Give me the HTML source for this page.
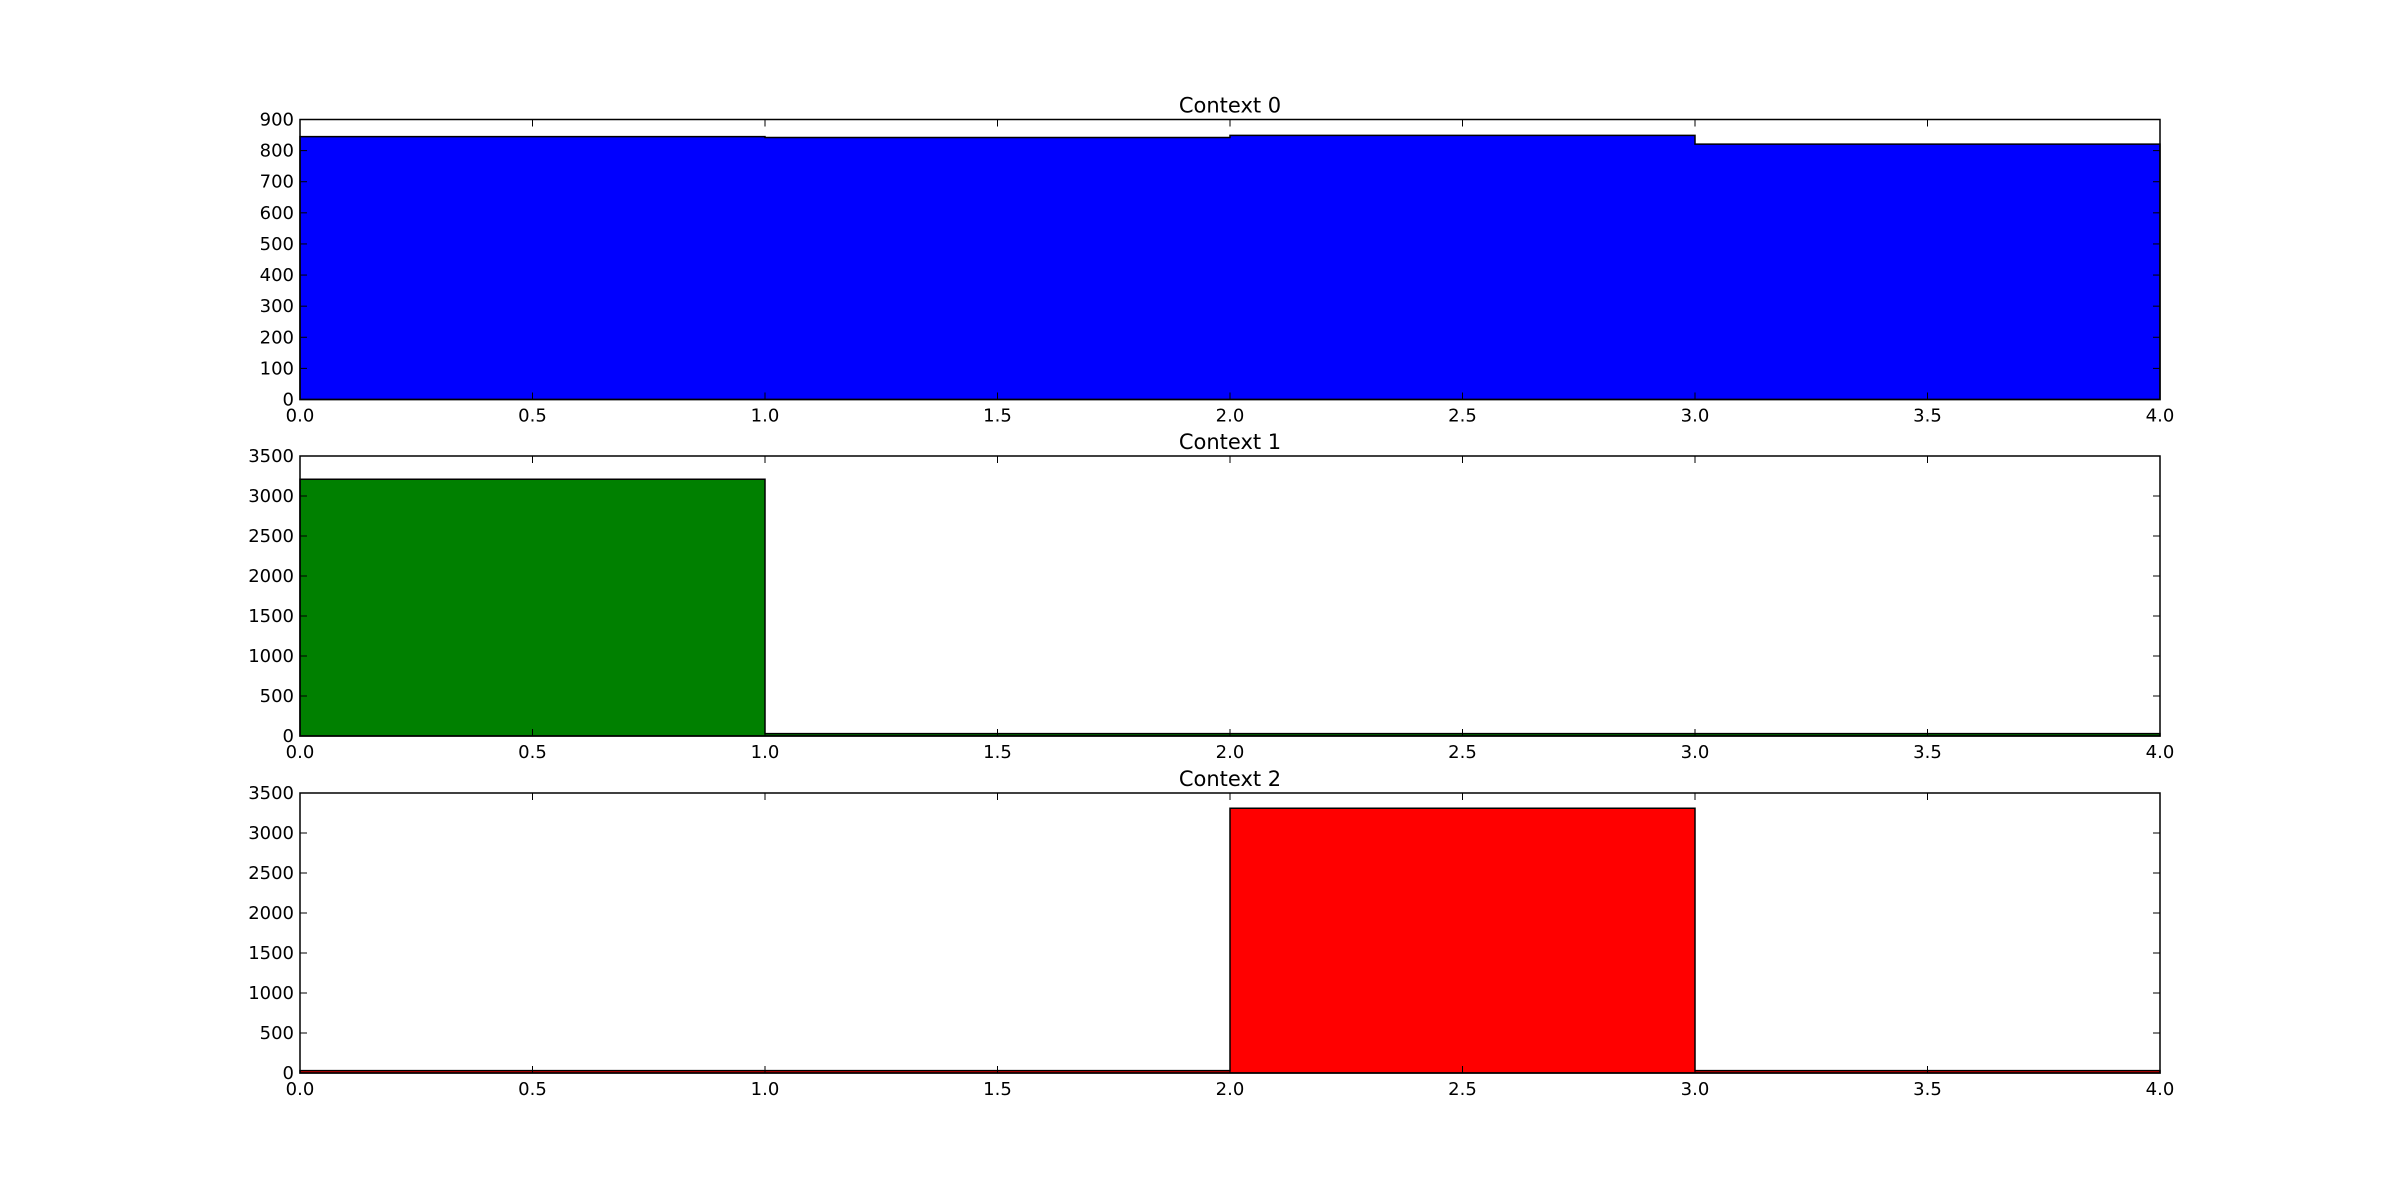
<!DOCTYPE html>
<html><head><meta charset="utf-8"><style>
html,body{margin:0;padding:0;background:#fff;}
svg{display:block;font-family:"DejaVu Sans","Liberation Sans",sans-serif;}
</style></head><body>
<svg id="chart" width="2400" height="1193"></svg>
<script>
const titles = ["Context 0","Context 1","Context 2"];
const binEdges = [0,1,2,3,4];
const xTicks = [0,0.5,1,1.5,2,2.5,3,3.5,4];
const xTickLabels = ["0.0","0.5","1.0","1.5","2.0","2.5","3.0","3.5","4.0"];
const counts0 = [845,842,849,821];
const counts1 = [3210,30,30,30];
const counts2 = [30,30,3310,30];
const yMax = [900,3500,3500];
const yTicks0 = [0,100,200,300,400,500,600,700,800,900];
const yTicks1 = [0,500,1000,1500,2000,2500,3000,3500];
const yTicks2 = [0,500,1000,1500,2000,2500,3000,3500];
const colors = ["#0000ff","#008000","#ff0000"];

const svg = document.getElementById('chart');
const NS = "http://www.w3.org/2000/svg";
function mk(tag, attrs, parent){
  const e = document.createElementNS(NS, tag);
  for (const k in attrs) e.setAttribute(k, attrs[k]);
  parent.appendChild(e);
  return e;
}
const L = 300, R = 2160;
const tops = [119.5, 456, 793];
const H = 280;
const allCounts = [counts0, counts1, counts2];
const allYTicks = [yTicks0, yTicks1, yTicks2];

for (let p = 0; p < 3; p++) {
  const T = tops[p], B = T + H;
  const xs = v => L + (v - binEdges[0]) / (binEdges[binEdges.length-1] - binEdges[0]) * (R - L);
  const ys = v => B - v / yMax[p] * H;
  const g = mk('g', {}, svg);
  
  
  const c = allCounts[p];
  let d = 'M' + xs(binEdges[0]) + ',' + B;
  for (let i = 0; i < c.length; i++) {
    d += ' L' + xs(binEdges[i]) + ',' + ys(c[i]) + ' L' + xs(binEdges[i+1]) + ',' + ys(c[i]);
  }
  d += ' L' + xs(binEdges[binEdges.length-1]) + ',' + B + ' Z';
  const h = mk('path', {d:d, fill:colors[p], stroke:'#000', 'stroke-width':1.5}, g);
  
  
  const f = mk('rect', {x:L, y:T, width:R-L, height:H, fill:'none', stroke:'#000', 'stroke-width':1.5}, g);
  
  
  xTicks.forEach((v, i) => {
    const x = xs(v);
    mk('line', {x1:x, y1:B, x2:x, y2:B-7, stroke:'#000', 'stroke-width':1}, g);
    mk('line', {x1:x, y1:T, x2:x, y2:T+7, stroke:'#000', 'stroke-width':1}, g);
    const t = mk('text', {x:x, y:B+22, 'font-size':18, 'text-anchor':'middle', fill:'#000'}, g);
    t.textContent = xTickLabels[i];
    
    
  });
  allYTicks[p].forEach(v => {
    const y = ys(v);
    mk('line', {x1:L, y1:y, x2:L+7, y2:y, stroke:'#000', 'stroke-width':1}, g);
    mk('line', {x1:R, y1:y, x2:R-7, y2:y, stroke:'#000', 'stroke-width':1}, g);
    const t = mk('text', {x:L-6, y:y+6, 'font-size':18, 'text-anchor':'end', fill:'#000'}, g);
    t.textContent = String(v);
    
    
  });
  const tt = mk('text', {x:(L+R)/2, y:T-7, 'font-size':21, 'text-anchor':'middle', fill:'#000'}, g);
  tt.textContent = titles[p];
  
  
}
</script>
</body></html>
